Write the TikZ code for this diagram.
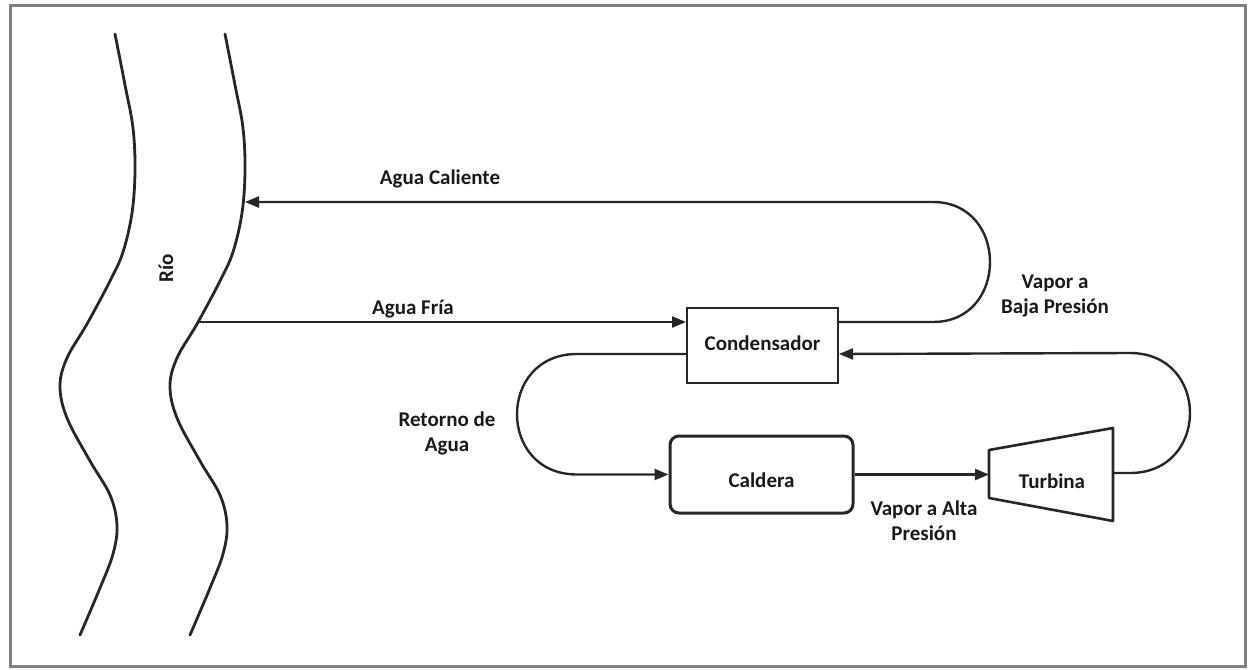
\documentclass[tikz,border=0pt]{standalone}
\usepackage{fontspec}
\setmainfont{Carlito}
\usetikzlibrary{arrows.meta}
\begin{document}
\begin{tikzpicture}[x=1pt,y=-1pt,
  flow/.style={line width=2.4pt, draw=black!85},
  tip/.style={-{Triangle[length=14pt,width=11pt]}},
  lbl/.style={font=\fontsize{21}{25}\selectfont\bfseries, text=black!90, align=center, inner sep=0pt},
  bank/.style={line width=2.8pt, draw=black!85, line cap=round},
  unit/.style={draw=black!85, inner sep=0pt}
]
\useasboundingbox (0,0) rectangle (1249,669);
% frame
\draw[line width=3pt, draw=black!50] (10,6) rectangle (1245,666);

% river banks
\draw[bank] plot[smooth, tension=0.6] coordinates {(115,34) (125,85) (133,128) (135,171) (132,213) (123,252) (110,281) (87,324) (67,358) (60,386) (67,418) (90,461) (110,495) (117,525) (113,554) (100,588) (80,635)};
\begin{scope}[xshift=110pt]
\draw[bank] plot[smooth, tension=0.6] coordinates {(115,34) (125,85) (133,128) (135,171) (132,213) (123,252) (110,281) (87,324) (67,358) (60,386) (67,418) (90,461) (110,495) (117,525) (113,554) (100,588) (80,635)};
\end{scope}
\node[lbl, rotate=90] (rio) at (166,268) {Río};
\coordinate (hotin) at (245,202);
\coordinate (coldout) at (199,322);

% plant units
\node[unit, line width=2pt, minimum width=151pt, minimum height=75pt] (cond) at (762.5,345.5) {};
\node[lbl] (condtxt) at ([yshift=2pt]cond.center) {Condensador};
\node[unit, line width=3pt, rounded corners=9pt, minimum width=183pt, minimum height=77pt] (cald) at (761.5,474.5) {};
\node[lbl] (caldtxt) at ([yshift=-6pt]cald.center) {Caldera};
\draw[line width=2.6pt, draw=black!85, line join=round] (989,450) -- (1113,428) -- (1113,521) -- (989,498) -- cycle;
\node[lbl] (turb) at (1052,481) {Turbina};
\coordinate (turbW) at (989,474.5);
\coordinate (turbE) at (1113,473);

% connectors
\draw[flow,tip] ([yshift=23.5pt]cond.east) -- (933,322) .. controls (1009,322) and (1009,202) .. (933,202) -- (hotin);
\draw[flow,tip] (coldout) -- (coldout -| cond.west);
\draw[flow,tip] (turbE) -- (1130,473) .. controls (1210,473) and (1210,353) .. (1130,353) -- ([yshift=-8.5pt]cond.east);
\draw[flow,tip] ([yshift=-8.5pt]cond.west) -- (577,354) .. controls (497,354) and (497,474.5) .. (577,474.5) -- (cald.west);
\draw[flow,tip] (cald.east) -- (turbW);

% labels
\node[lbl] (lhot) at (440,179) {Agua Caliente};
\node[lbl] (lcold) at (413,309) {Agua Fría};
\node[lbl] (llow) at (1055,296) {Vapor a\\Baja Presión};
\node[lbl] (lret) at (447,433) {Retorno de\\Agua};
\node[lbl] (lhigh) at (924,520.5) {Vapor a Alta\\Presión};
\end{tikzpicture}
\end{document}
